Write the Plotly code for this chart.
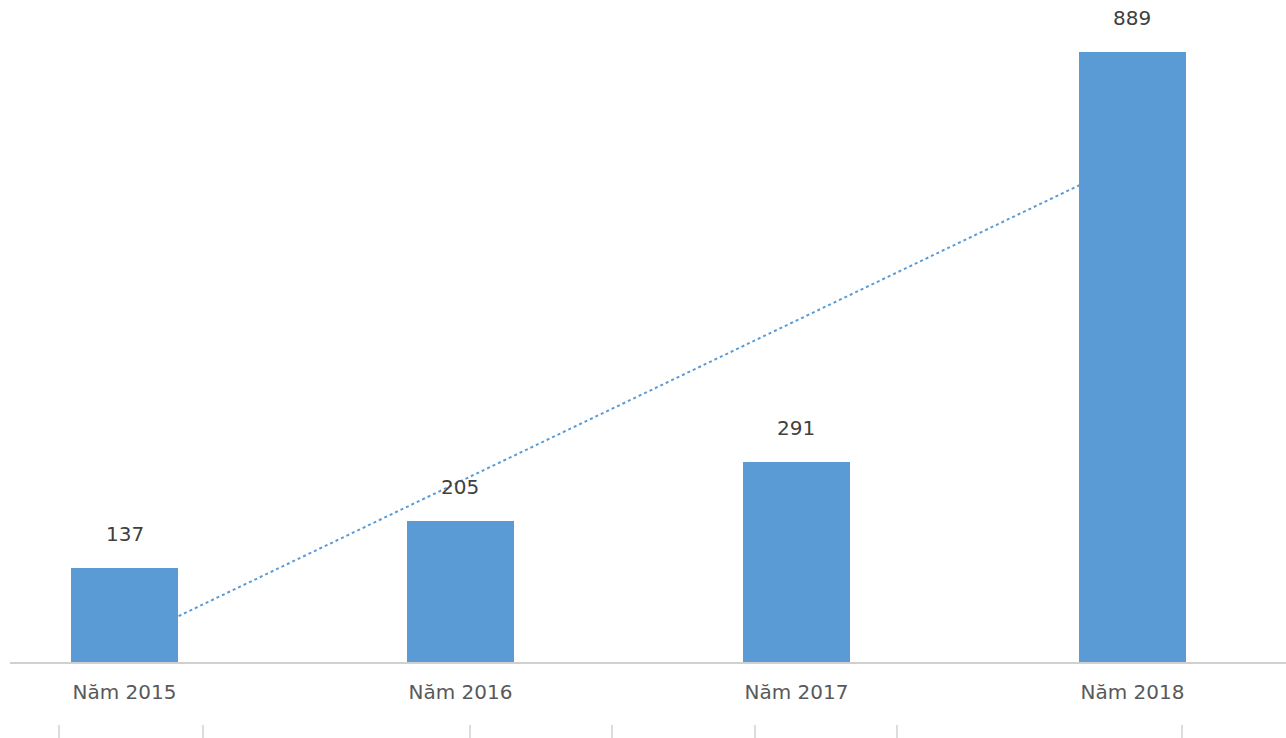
import numpy as np
import plotly.graph_objects as go

categories = ["Năm 2015", "Năm 2016", "Năm 2017", "Năm 2018"]
values = [137, 205, 291, 889]

W, H = 1286, 738
bar_color = "#5B9BD5"
font_family = "DejaVu Sans, Verdana, sans-serif"

# linear trendline (as in the source spreadsheet chart)
idx = np.arange(1, len(values) + 1)
slope, intercept = np.polyfit(idx, values, 1)
trend = slope * idx + intercept

fig = go.Figure()

# trendline on base axes (drawn beneath the bars)
fig.add_trace(go.Scatter(
    x=list(range(len(categories))), y=trend, mode="lines",
    line=dict(color=bar_color, width=2, dash="dot"),
    xaxis="x", yaxis="y", hoverinfo="skip", showlegend=False,
))

fig.add_trace(go.Bar(
    x=list(range(len(categories))), y=values,
    marker=dict(color=bar_color, line=dict(width=0)),
    width=0.318,
    xaxis="x2", yaxis="y2", showlegend=False,
))

# value labels above bars
for i, v in enumerate(values):
    fig.add_annotation(
        x=i, y=v, xref="x2", yref="y2", text=str(v), showarrow=False,
        yanchor="bottom", yshift=20,
        font=dict(family=font_family, size=20, color="#404040"),
    )

xr = [-0.3408, 3.457]
yr = [0, 964.7]

fig.update_layout(
    width=W, height=H,
    margin=dict(l=0, r=0, t=0, b=76),
    plot_bgcolor="white", paper_bgcolor="white",
    bargap=0,
    xaxis=dict(domain=[10 / W, 1], range=xr, showgrid=False, zeroline=False,
               showticklabels=False, showline=False, fixedrange=True),
    yaxis=dict(range=yr, visible=False, fixedrange=True),
    xaxis2=dict(domain=[10 / W, 1], range=xr, overlaying="x", anchor="y2",
                tickmode="array", tickvals=list(range(len(categories))),
                ticktext=categories, showgrid=False, zeroline=False,
                showline=True, linecolor="#D0D0D0", linewidth=2,
                ticks="", ticklabelstandoff=11,
                tickfont=dict(family=font_family, size=20, color="#595959")),
    yaxis2=dict(range=yr, overlaying="y", visible=False, fixedrange=True),
)

# faint decorative border ticks at the bottom edge of the image
for px in [59, 203, 470, 612, 755, 897, 1182]:
    fig.add_shape(type="line", xref="paper", yref="paper",
                  x0=px / W, x1=px / W,
                  y0=-(738 - 662) / 662, y1=-(725 - 662) / 662,
                  line=dict(color="#BBBBBB", width=1))

fig.write_html("out.html")
